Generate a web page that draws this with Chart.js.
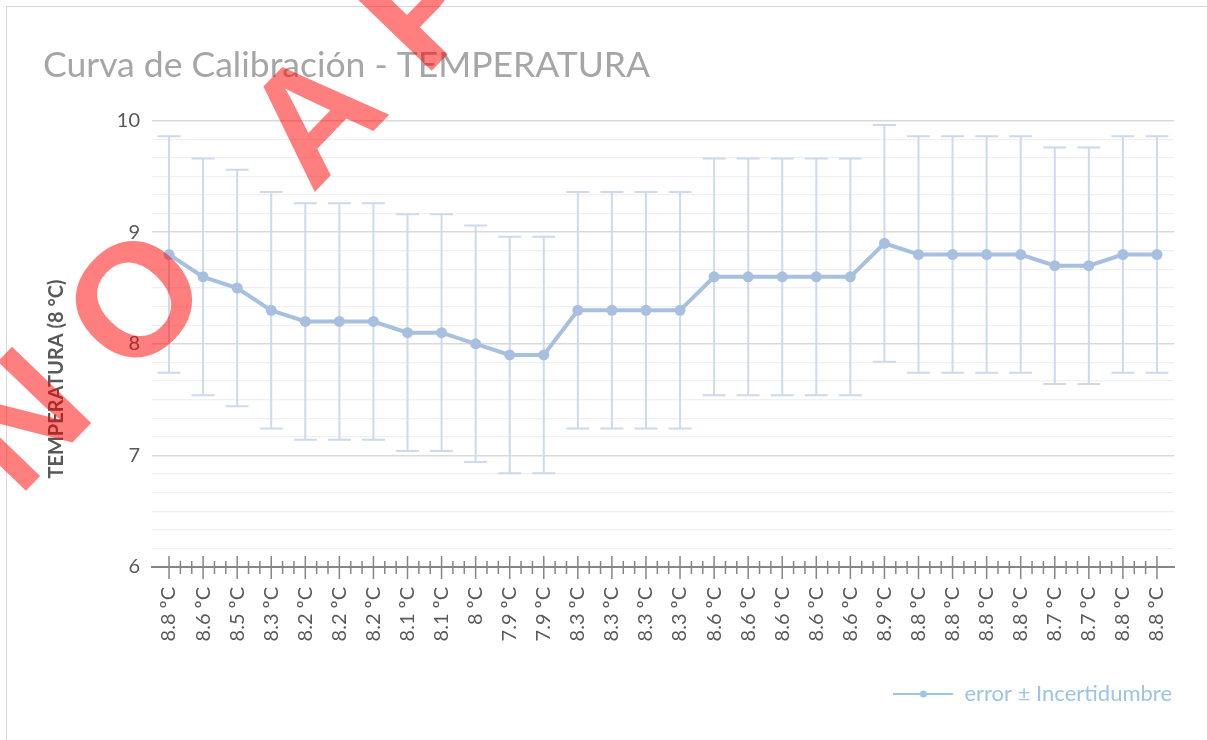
<!DOCTYPE html>
<html>
<head>
<meta charset="utf-8">
<title>Curva de Calibración - TEMPERATURA</title>
<script src="https://cdn.jsdelivr.net/npm/chart.js@4.4.1/dist/chart.umd.min.js"></script>
<style>
  html, body { margin: 0; padding: 0; background: #fff; overflow: hidden; }
  #wrap { position: relative; width: 1207px; height: 740px; }
  #frame { position: absolute; left: 6px; top: 6px; width: 1300px; height: 800px; border: 1px solid #d9d9d9; }
  canvas { position: absolute; left: 0; top: 0; }
</style>
</head>
<body>
<div id="wrap">
  <div id="frame"></div>
  <canvas id="calib-chart" width="1207" height="740"></canvas>
</div>
<script>
// datos
const categories = ['8.8 ºC', '8.6 ºC', '8.5 ºC', '8.3 ºC', '8.2 ºC', '8.2 ºC', '8.2 ºC', '8.1 ºC', '8.1 ºC', '8 ºC',
                    '7.9 ºC', '7.9 ºC', '8.3 ºC', '8.3 ºC', '8.3 ºC', '8.3 ºC', '8.6 ºC', '8.6 ºC', '8.6 ºC', '8.6 ºC',
                    '8.6 ºC', '8.9 ºC', '8.8 ºC', '8.8 ºC', '8.8 ºC', '8.8 ºC', '8.7 ºC', '8.7 ºC', '8.8 ºC', '8.8 ºC'];
const readings = [8.8, 8.6, 8.5, 8.3, 8.2, 8.2, 8.2, 8.1, 8.1, 8.0,
                  7.9, 7.9, 8.3, 8.3, 8.3, 8.3, 8.6, 8.6, 8.6, 8.6,
                  8.6, 8.9, 8.8, 8.8, 8.8, 8.8, 8.7, 8.7, 8.8, 8.8];
const uncertainty = [1.06, 1.06, 1.06, 1.06, 1.06, 1.06, 1.06, 1.06, 1.06, 1.06,
                     1.06, 1.06, 1.06, 1.06, 1.06, 1.06, 1.06, 1.06, 1.06, 1.06,
                     1.06, 1.06, 1.06, 1.06, 1.06, 1.06, 1.06, 1.06, 1.06, 1.06];
const yTickLabels = [6, 7, 8, 9, 10];
const yMinorStep = 1 / 6;

const FONT = 'Lato, "Open Sans", sans-serif';
const lineColor = '#a7c0df';
const errColor = '#ccdaec';

// barras de error con los limites del eje y
const errorBars = {
  id: 'errorBars',
  beforeDatasetsDraw(chart) {
    const { ctx, scales: { x, y } } = chart;
    ctx.save();
    ctx.strokeStyle = errColor;
    ctx.lineWidth = 2;
    readings.forEach((v, i) => {
      const px = x.getPixelForValue(i);
      const top = y.getPixelForValue(v + uncertainty[i]);
      const bot = y.getPixelForValue(v - uncertainty[i]);
      ctx.beginPath();
      ctx.moveTo(px, top); ctx.lineTo(px, bot);
      ctx.moveTo(px - 11.5, top); ctx.lineTo(px + 11.5, top);
      ctx.moveTo(px - 11.5, bot); ctx.lineTo(px + 11.5, bot);
      ctx.stroke();
    });
    ctx.restore();
  }
};

// marcas del eje x, titulo del eje y y sello
const extras = {
  id: 'extras',
  afterDraw(chart) {
    const { ctx, scales: { x, y } } = chart;
    const axisY = y.getPixelForValue(yTickLabels[0]);
    ctx.save();
    ctx.strokeStyle = '#868686';
    ctx.lineWidth = 1.5;
    ctx.beginPath();
    for (let i = 0; i < categories.length; i++) {
      const px = x.getPixelForValue(i);
      ctx.moveTo(px, axisY - 11); ctx.lineTo(px, axisY + 12);
      if (i < categories.length - 1) {
        const step = x.getPixelForValue(i + 1) - px;
        [1 / 3, 2 / 3].forEach(k => {
          ctx.moveTo(px + step * k, axisY - 6); ctx.lineTo(px + step * k, axisY + 7);
        });
      }
    }
    ctx.stroke();

    // titulo del eje vertical
    ctx.translate(57, 379);
    ctx.rotate(-Math.PI / 2);
    ctx.font = 'bold 20px ' + FONT;
    ctx.fillStyle = '#595959';
    ctx.textAlign = 'center';
    ctx.textBaseline = 'middle';
    ctx.fillText('TEMPERATURA (8 °C)', 0, 0);
    ctx.restore();

    // sello "NO APTO"
    ctx.save();
    ctx.font = 'bold 160px "Liberation Sans", Arial, sans-serif';
    ctx.fillStyle = 'rgba(255, 0, 0, 0.5)';
    ctx.textAlign = 'left';
    ctx.textBaseline = 'alphabetic';
    const ang = -46 * Math.PI / 180;
    const gap = 46;
    const text = 'NO APTO';
    const uO = ctx.measureText('N').width + gap + ctx.measureText('O').width / 2;
    const vO = -57;
    const ox = 133 - (uO * Math.cos(ang) - vO * Math.sin(ang));
    const oy = 298 - (uO * Math.sin(ang) + vO * Math.cos(ang));
    ctx.translate(ox, oy);
    ctx.rotate(ang);
    let u = 0;
    for (const ch of text) {
      ctx.fillText(ch, u, 0);
      u += ctx.measureText(ch).width + gap;
    }
    ctx.restore();
  }
};

// simbolo de la leyenda: linea con punto
const legendIcon = document.createElement('canvas');
legendIcon.width = 60;
legendIcon.height = 10;
(function () {
  const c = legendIcon.getContext('2d');
  c.strokeStyle = '#9dc3e6';
  c.lineWidth = 2;
  c.beginPath(); c.moveTo(0, 5); c.lineTo(60, 5); c.stroke();
  c.fillStyle = '#9dc3e6';
  c.beginPath(); c.arc(30, 5, 3.5, 0, Math.PI * 2); c.fill();
})();

const ctx = document.getElementById('calib-chart').getContext('2d');
const calibChart = new Chart(ctx, {
  type: 'line',
  data: {
    labels: categories,
    datasets: [{
      label: 'error ± Incertidumbre',
      data: readings,
      borderColor: lineColor,
      backgroundColor: lineColor,
      borderWidth: 4,
      pointRadius: 5.5,
      pointBorderWidth: 0,
      pointBackgroundColor: lineColor,
      tension: 0
    }]
  },
  options: {
    responsive: false,
    animation: false,
    layout: { padding: { left: 43, right: 33, top: 0, bottom: 25 } },
    plugins: {
      title: {
        display: true,
        text: 'Curva de Calibración - TEMPERATURA',
        align: 'start',
        color: '#a6a6a6',
        font: { family: FONT, size: 35.5, weight: 'normal' },
        padding: { top: 44, bottom: 34 }
      },
      legend: {
        position: 'bottom',
        align: 'end',
        labels: {
          usePointStyle: true,
          pointStyleWidth: 60,
          padding: 2,
          color: '#9dc3e6',
          font: { family: FONT, size: 22 },
          generateLabels(chart) {
            return chart.data.datasets.map((ds, i) => ({
              text: ds.label,
              pointStyle: legendIcon,
              fontColor: '#9dc3e6',
              lineWidth: 0,
              datasetIndex: i
            }));
          }
        }
      },
      tooltip: { enabled: false }
    },
    scales: {
      x: {
        offset: true,
        afterFit(scale) { scale.height = 114; },
        grid: { display: false, drawTicks: false },
        border: { display: true, color: '#868686', width: 2 },
        ticks: {
          autoSkip: false,
          minRotation: 90,
          maxRotation: 90,
          padding: 20,
          color: '#595959',
          font: { family: FONT, size: 20 }
        }
      },
      y: {
        min: yTickLabels[0],
        max: yTickLabels[yTickLabels.length - 1],
        afterFit(scale) { scale.width = 109; },
        border: { display: false },
        grid: {
          drawTicks: false,
          color: c => yTickLabels.some(t => Math.abs(t - c.tick.value) < 1e-6) ? '#d9d9d9' : '#f0f0f0',
          lineWidth: c => yTickLabels.some(t => Math.abs(t - c.tick.value) < 1e-6) ? 1.5 : 1.2
        },
        ticks: {
          stepSize: yMinorStep,
          autoSkip: false,
          padding: 12,
          color: '#595959',
          font: { family: FONT, size: 20 },
          callback(value) {
            const t = yTickLabels.find(t => Math.abs(t - value) < 1e-6);
            return t === undefined ? '' : String(t);
          }
        }
      }
    }
  },
  plugins: [errorBars, extras]
});
</script>
</body>
</html>
